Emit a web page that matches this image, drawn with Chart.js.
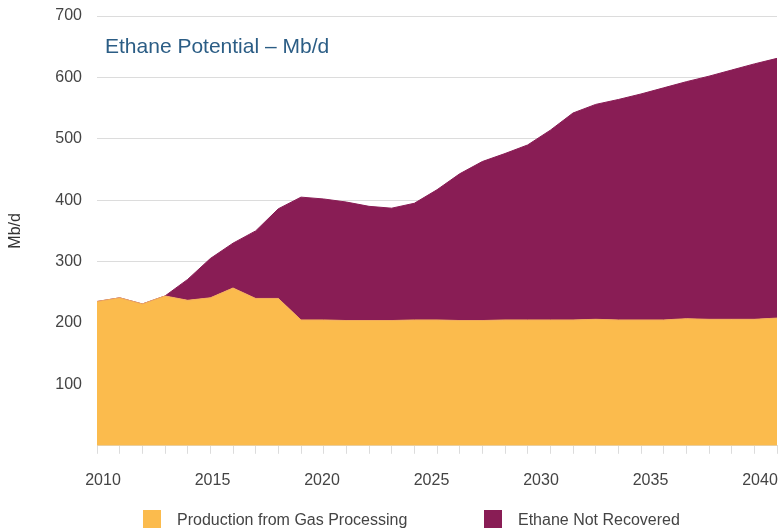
<!DOCTYPE html>
<html>
<head>
<meta charset="utf-8">
<script src="https://cdn.jsdelivr.net/npm/chart.js@4"></script>
<style>
  body { margin: 0; background: #fff; font-family: "Liberation Sans", Arial, sans-serif; }
  #wrap { position: relative; width: 780px; height: 531px; }
  #legend { position: absolute; left: 0; top: 510px; width: 780px; height: 18px; font-size: 16px; color: #444; }
  .item { position: absolute; top: 0; height: 18px; line-height: 18px; white-space: nowrap; }
  .item span.box { position: absolute; left: 0; top: 0; width: 18px; height: 18px; }
  .item span.txt { position: absolute; left: 34px; top: 1px; }
</style>
</head>
<body>
<div id="wrap">
  <canvas id="chart" width="780" height="531"></canvas>
  <div id="legend"></div>
</div>
<script>
// data
const years = [];
for (let y = 2010; y <= 2040; y++) years.push(String(y));

const gasProcessing = [235, 241, 231, 244, 237, 241, 257, 240, 240, 205, 205,
  204, 204, 204, 205, 205, 204, 204, 205, 205, 205,
  205, 206, 205, 205, 205, 207, 206, 206, 206, 208];

const notRecovered = [0, 0, 0, 0, 34, 64, 73, 110, 146, 200, 197,
  193, 186, 183, 190, 212, 239, 259, 271, 285, 309,
  337, 350, 359, 368, 378, 386, 396, 406, 416, 423];

const yTicks = [100, 200, 300, 400, 500, 600, 700];
const yearLabels = [2010, 2015, 2020, 2025, 2030, 2035, 2040];

const orange = '#fbbb4d';
const purple = '#891d55';
const textColor = '#444';
const font = "'Liberation Sans', Arial, sans-serif";

// title inside the plot
const titlePlugin = {
  id: 'innerTitle',
  afterDraw(chart) {
    const ctx = chart.ctx;
    ctx.save();
    ctx.font = '21px ' + font;
    ctx.fillStyle = '#2b5d85';
    ctx.textBaseline = 'alphabetic';
    ctx.fillText('Ethane Potential \u2013 Mb/d', 105, 53);
    ctx.restore();
  }
};

const ctx = document.querySelector('#chart').getContext('2d');

new Chart(ctx, {
  type: 'line',
  data: {
    labels: years,
    datasets: [
      {
        label: 'Production from Gas Processing',
        data: gasProcessing,
        backgroundColor: orange,
        borderColor: '#f3ad5c',
        borderWidth: 1,
        pointRadius: 0,
        fill: 'origin',
        tension: 0
      },
      {
        label: 'Ethane Not Recovered',
        data: notRecovered,
        backgroundColor: purple,
        borderColor: purple,
        borderWidth: 1,
        pointRadius: 0,
        fill: '-1',
        tension: 0
      }
    ]
  },
  options: {
    responsive: false,
    animation: false,
    layout: { padding: { top: 16, right: 3, bottom: 41, left: 0 } },
    plugins: {
      legend: { display: false },
      tooltip: { enabled: false }
    },
    scales: {
      x: {
        type: 'category',
        offset: false,
        weight: 0,
        grid: { drawOnChartArea: false, drawTicks: true, tickLength: 8, color: '#dcdcdc' },
        border: { display: true, color: '#dcdcdc' },
        ticks: { display: false, autoSkip: false }
      },
      // labels sit on their own axis, spaced a little tighter than the year ticks
      x2: {
        type: 'linear',
        position: 'bottom',
        weight: 1,
        min: 2009.726,
        max: 2040.776,
        grid: { display: true, drawOnChartArea: false, drawTicks: true, tickLength: 17, color: 'rgba(0,0,0,0)' },
        border: { display: false },
        afterBuildTicks: (scale) => {
          scale.ticks = yearLabels.map(v => ({ value: v }));
        },
        ticks: {
          callback: (v) => String(v),
          font: { size: 16, family: font },
          color: textColor,
          padding: 0,
          maxRotation: 0
        }
      },
      y: {
        stacked: true,
        min: 0,
        max: 700,
        afterFit: (scale) => { scale.width = 97; },
        afterBuildTicks: (scale) => {
          scale.ticks = [{ value: 0 }].concat(yTicks.map(v => ({ value: v })));
        },
        grid: { color: '#dcdcdc', drawTicks: true, tickLength: 15, tickColor: 'rgba(0,0,0,0)' },
        border: { display: false },
        ticks: {
          callback: (v) => (v === 0 ? '' : String(v)),
          font: { size: 16, family: font },
          color: textColor,
          padding: 0
        },
        title: {
          display: true,
          text: 'Mb/d',
          font: { size: 16, family: font },
          color: '#333',
          padding: { top: 6, bottom: 4 }
        }
      }
    }
  },
  plugins: [titlePlugin]
});

// legend as plain html below the chart
const legend = document.querySelector('#legend');
const legendItems = [
  { text: 'Production from Gas Processing', color: orange, left: 143 },
  { text: 'Ethane Not Recovered', color: purple, left: 484 }
];
legendItems.forEach(it => {
  const div = document.createElement('div');
  div.className = 'item';
  div.style.left = it.left + 'px';
  div.innerHTML = '<span class="box" style="background:' + it.color + '"></span><span class="txt">' + it.text + '</span>';
  legend.appendChild(div);
});
</script>
</body>
</html>
